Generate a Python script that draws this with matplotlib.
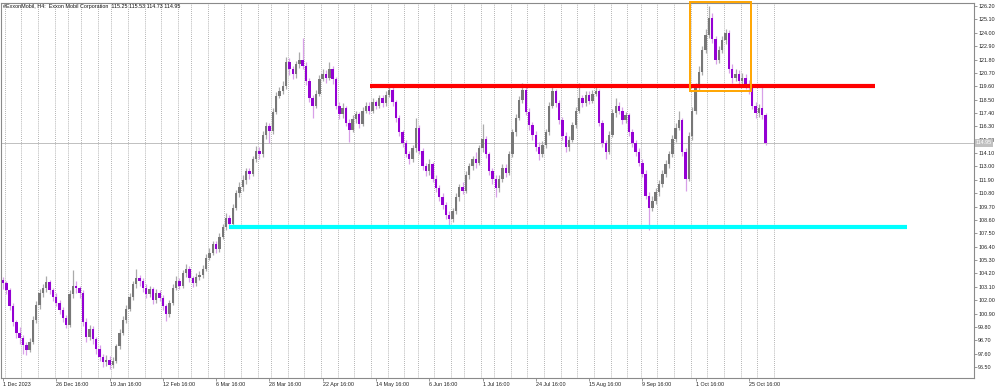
import numpy as np
import pandas as pd
import matplotlib
matplotlib.use("Agg")
import matplotlib.pyplot as plt
from matplotlib.patches import Rectangle

plt.rcParams['font.family'] = ['Liberation Sans', 'DejaVu Sans']

title = "#ExxonMobil, H4:  Exxon Mobil Corporation  115.25 115.53 114.73 114.95"

# closes (one candle per trading day)
closes = [
    103.4, 102.8, 101.5, 100.2, 99.3, 98.9, 98.3, 97.9, 98.6, 100.4,
    101.6, 102.6, 103.0, 103.5, 102.8, 102.3, 101.8, 101.2, 100.5, 100.0,
    102.5, 103.2, 103.0, 102.6, 100.2, 99.0, 99.6, 98.8, 98.0, 97.3,
    96.9, 97.1, 96.7, 97.0, 98.2, 99.3, 100.4, 101.3, 102.3, 103.3,
    103.8, 103.6, 103.0, 102.5, 102.9, 102.0, 102.6, 102.2, 101.5, 100.9,
    101.8, 103.0, 103.6, 103.2, 104.2, 104.6, 103.8, 103.4, 103.9, 104.1,
    104.6, 105.5, 105.9, 106.6, 106.2, 107.2, 108.0, 108.8, 108.3, 109.6,
    110.8, 111.3, 111.9, 112.6, 112.4, 113.6, 114.3, 114.0, 115.6, 116.3,
    115.9, 117.5, 118.8, 119.2, 119.6, 121.6, 121.0, 120.6, 121.4, 121.8,
    121.3, 120.0, 118.6, 118.0, 119.0, 120.2, 120.6, 120.3, 121.0, 120.2,
    118.0, 117.3, 117.8, 116.6, 116.0, 116.9, 117.3, 116.5, 117.6, 118.0,
    117.6, 118.3, 118.0, 118.6, 118.2, 118.9, 119.3, 118.3, 117.0, 115.8,
    114.9, 114.0, 113.6, 114.5, 116.2, 114.3, 113.0, 112.6, 113.2, 112.0,
    111.2, 110.5, 109.8, 109.0, 108.7, 109.3, 110.5, 111.3, 111.0, 112.3,
    113.0, 113.6, 113.3, 114.5, 115.3, 114.0, 112.6, 112.0, 111.2, 112.0,
    112.9, 112.5, 114.0, 115.8, 117.0, 118.5, 119.3, 117.5, 116.4, 115.6,
    114.6, 114.0, 114.8, 115.8, 118.0, 119.2, 118.2, 116.8, 115.5, 114.6,
    115.2, 116.4, 117.6, 118.6, 118.2, 118.9, 118.4, 119.0, 119.2, 116.6,
    114.9, 114.2, 115.6, 117.4, 118.0, 117.6, 116.8, 117.2, 115.8, 114.9,
    114.2, 113.3, 112.4, 110.6, 109.6, 110.2, 110.9, 111.6, 112.4, 113.2,
    114.0, 115.3, 116.2, 116.8, 114.2, 112.0, 115.5, 117.6, 119.6, 120.8,
    122.6, 123.8, 125.2, 123.5, 121.8, 122.6, 123.4, 124.0, 121.0, 120.3,
    120.6, 120.0, 120.3, 119.8, 119.6, 118.0, 117.4, 117.8, 117.2, 114.95,
]
first_open = 103.7

highs = [
    103.9, 103.6, 103.0, 101.8, 100.4, 99.8, 99.1, 98.6, 98.9, 100.7,
    101.9, 102.9, 103.3, 104.0, 103.7, 103.0, 102.6, 102.0, 101.4, 100.8,
    102.8, 104.5, 103.6, 103.2, 102.8, 100.5, 100.0, 99.9, 99.0, 98.3,
    97.6, 97.5, 97.4, 97.3, 98.4, 99.6, 100.7, 101.6, 102.6, 103.6,
    104.6, 104.1, 103.8, 103.3, 103.2, 103.1, 102.9, 102.8, 102.4, 101.7,
    102.0, 103.3, 104.0, 103.8, 104.5, 105.0, 104.8, 104.0, 104.2, 104.4,
    104.9, 105.8, 106.3, 106.9, 106.9, 107.5, 108.3, 109.2, 109.0, 109.9,
    111.1, 111.7, 112.3, 112.9, 112.9, 113.9, 114.7, 114.6, 115.9, 116.7,
    116.6, 117.8, 119.1, 119.5, 120.0, 122.0, 121.9, 121.3, 121.7, 122.4,
    123.6, 121.6, 120.3, 118.9, 119.3, 120.5, 121.0, 120.9, 121.6, 121.3,
    120.4, 118.3, 118.2, 118.0, 116.9, 117.2, 117.6, 117.5, 117.9, 118.3,
    118.3, 118.6, 118.5, 118.9, 118.9, 119.2, 119.7, 119.5, 118.5, 117.2,
    116.0, 115.2, 114.3, 114.8, 117.0, 116.4, 114.5, 113.3, 113.6, 113.4,
    112.3, 111.5, 110.8, 110.1, 109.3, 109.6, 110.8, 111.6, 111.7, 112.6,
    113.3, 113.9, 114.2, 114.8, 116.5, 115.5, 114.2, 112.9, 112.3, 112.3,
    113.2, 113.2, 114.3, 116.1, 117.3, 118.8, 119.9, 119.5, 117.8, 116.7,
    115.9, 115.0, 115.1, 116.1, 118.3, 119.7, 119.4, 118.5, 117.1, 115.8,
    115.5, 116.7, 117.9, 119.9, 118.9, 119.2, 119.2, 119.3, 119.8, 119.4,
    116.8, 115.2, 115.9, 117.7, 118.6, 118.3, 117.9, 117.5, 117.4, 116.1,
    115.2, 114.5, 113.6, 112.7, 110.9, 110.6, 111.2, 111.9, 112.7, 113.5,
    114.3, 115.6, 116.6, 117.6, 117.0, 114.5, 115.8, 117.9, 119.9, 121.3,
    122.9, 124.3, 126.2, 125.6, 123.7, 122.9, 123.7, 124.3, 124.2, 121.4,
    121.0, 120.9, 120.7, 120.6, 120.1, 119.8, 118.3, 118.1, 119.7, 117.4,
]

lows = [
    102.9, 102.5, 101.2, 99.9, 98.9, 98.4, 97.6, 97.5, 97.7, 98.4,
    100.1, 101.3, 102.3, 102.7, 102.5, 101.9, 101.5, 100.9, 100.2, 99.7,
    99.8, 102.2, 102.6, 102.2, 99.9, 98.6, 98.7, 98.4, 97.6, 97.0,
    96.5, 96.6, 96.3, 96.4, 96.8, 98.0, 99.1, 100.1, 101.1, 102.0,
    103.0, 103.2, 102.7, 102.2, 102.3, 101.7, 101.8, 101.9, 101.2, 100.3,
    100.6, 101.6, 102.8, 102.9, 103.0, 103.9, 103.5, 103.1, 103.2, 103.7,
    103.8, 104.4, 105.3, 105.7, 105.9, 106.0, 107.0, 107.8, 107.9, 108.1,
    109.4, 110.5, 111.0, 111.6, 112.0, 112.2, 113.4, 113.6, 113.8, 115.3,
    114.9, 115.7, 117.3, 118.6, 119.0, 119.4, 120.5, 120.2, 120.3, 121.1,
    121.0, 119.7, 118.3, 117.0, 117.8, 118.8, 120.0, 119.9, 120.1, 119.8,
    117.7, 116.9, 117.0, 116.3, 115.0, 115.8, 116.6, 116.2, 116.3, 117.4,
    117.3, 117.4, 117.7, 117.8, 117.9, 118.0, 118.7, 118.0, 116.7, 115.5,
    114.6, 113.8, 113.2, 113.4, 114.2, 114.0, 112.7, 112.2, 112.3, 111.7,
    110.9, 110.2, 109.5, 108.7, 108.2, 108.4, 109.1, 110.2, 110.7, 110.8,
    112.0, 112.7, 112.9, 113.1, 114.2, 113.7, 112.3, 111.6, 110.5, 110.9,
    111.7, 112.1, 112.3, 113.8, 115.5, 116.8, 118.2, 117.2, 116.0, 115.2,
    114.3, 113.5, 113.8, 114.5, 115.6, 117.8, 117.9, 116.5, 115.2, 114.2,
    114.3, 115.0, 116.2, 117.4, 117.9, 118.0, 118.1, 118.2, 118.8, 116.3,
    114.6, 113.6, 114.0, 115.4, 117.1, 117.3, 116.5, 116.6, 115.5, 114.6,
    113.9, 113.0, 112.1, 110.3, 107.8, 109.3, 109.9, 110.6, 111.3, 112.1,
    112.9, 113.8, 115.0, 116.0, 113.9, 111.0, 111.8, 115.2, 117.3, 119.3,
    120.5, 122.3, 123.6, 123.2, 121.4, 121.5, 122.3, 123.1, 120.7, 119.9,
    120.0, 119.7, 119.7, 119.4, 119.0, 117.7, 117.0, 117.1, 116.9, 114.73,
]

holidays = ['2023-12-25', '2024-01-01', '2024-01-15', '2024-02-19', '2024-03-29',
            '2024-05-27', '2024-06-19', '2024-07-04', '2024-09-02']

xtick_labels = ["1 Dec 2023", "26 Dec 16:00", "19 Jan 16:00", "12 Feb 16:00", "6 Mar 16:00",
                "28 Mar 16:00", "22 Apr 16:00", "14 May 16:00", "6 Jun 16:00", "1 Jul 16:00",
                "24 Jul 16:00", "15 Aug 16:00", "9 Sep 16:00", "1 Oct 16:00", "25 Oct 16:00"]

price_ticks = [126.20, 125.10, 124.00, 122.90, 121.80, 120.70, 119.60, 118.50, 117.40,
               116.30, 115.20, 114.10, 113.00, 111.90, 110.80, 109.70, 108.60, 107.50,
               106.40, 105.30, 104.20, 103.10, 102.00, 100.90, 99.80, 98.70, 97.60, 96.50]

last_price = 114.95
resistance = 119.62   # red level
support = 108.0       # cyan level

n = len(closes)
opens = [first_open] + closes[:-1]
idx = np.arange(n)
o = np.array(opens); c = np.array(closes)
h = np.array(highs); l = np.array(lows)
bull = c >= o

dates = pd.bdate_range('2023-12-01', periods=n + 4, freq='C', holidays=holidays)
week_lines = [i - 0.5 for i in range(1, len(dates)) if dates[i].weekday() < dates[i - 1].weekday()]

fig = plt.figure(figsize=(10, 3.89), dpi=100)
ax = fig.add_axes([0.001, 11 / 389, 0.973, 375 / 389])

for x in week_lines:
    ax.axvline(x, color='#9a9a9a', lw=0.6, ls=(0, (1, 1.5)), zorder=0)

ax.axhline(last_price, color='#c0c0c0', lw=0.7, zorder=1)

wick_col = np.where(bull, '#aaaaaa', '#d8a0e8')
body_col = np.where(bull, '#777777', '#9400d3')
ax.vlines(idx, l, h, colors=wick_col, lw=0.9, zorder=2)
bottoms = np.minimum(o, c)
heights = np.maximum(np.abs(c - o), 0.06)
ax.bar(idx, heights, bottom=bottoms, width=0.72, color=body_col, lw=0, zorder=3)

ax.hlines(resistance, 110.2, 261.9, color='#ff0000', lw=3, zorder=4)
ax.hlines(support, 67.9, 271.5, color='#00ffff', lw=3, zorder=4)
ax.add_patch(Rectangle((206.3, 119.2), 18.3, 7.33, fill=False, ec='#ffa500',
                       lw=1.4, zorder=5, clip_on=False))

ax.set_xlim(-0.6, 291.6)
ax.set_ylim(95.6, 126.45)

ax.yaxis.tick_right()
ax.set_yticks(price_ticks, [f"{p:.2f}" for p in price_ticks])
ax.set_xticks(np.arange(len(xtick_labels)) * 16, xtick_labels)
for t in ax.get_xticklabels():
    t.set_ha('left')
ax.tick_params(axis='both', labelsize=3.9, length=2, width=0.5, pad=1,
               color='#707070', labelcolor='#222222')

for s in ax.spines.values():
    s.set_color('#8a8a8a')
    s.set_linewidth(0.8)

ax.text(1.002, last_price, f"{last_price:.2f}", transform=ax.get_yaxis_transform(),
        fontsize=3.9, color='white', va='center', ha='left', clip_on=False,
        bbox=dict(boxstyle='square,pad=0.25', fc='#c0c0c0', ec='none'), zorder=6)

ax.text(0.002, 0.997, title, transform=ax.transAxes, fontsize=3.9, va='top', ha='left',
        color='#111111')

fig.savefig("out.png", dpi=100)
